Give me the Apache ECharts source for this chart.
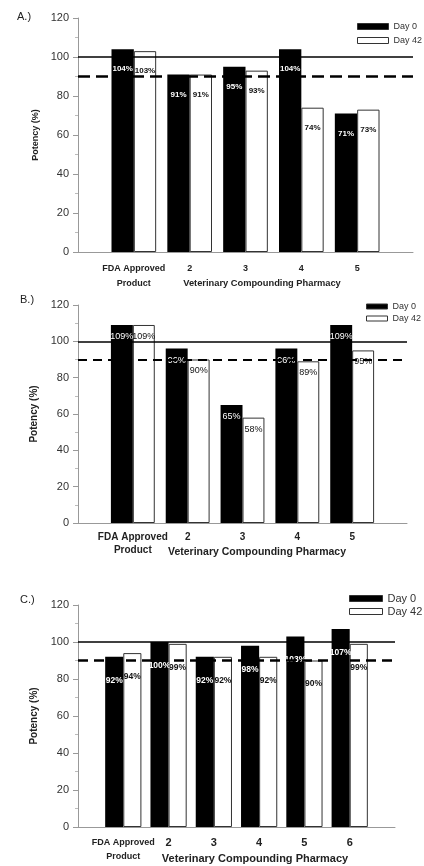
<!DOCTYPE html>
<html><head><meta charset="utf-8">
<script src="https://cdn.jsdelivr.net/npm/echarts@6/dist/echarts.min.js"></script>
<style>html,body{margin:0;padding:0;background:#fff}#c{width:424px;height:866px}</style>
</head><body><div id="c"></div>
<script>
// ---- data ----
const categoriesAB = ['FDA Approved\nProduct', '2', '3', '4', '5'];
const categoriesC = ['FDA Approved\nProduct', '2', '3', '4', '5', '6'];
const panelA_day0 = [104, 91, 95, 104, 71];
const panelA_day42 = [103, 91, 93, 74, 73];
const panelB_day0 = [109, 96, 65, 96, 109];
const panelB_day42 = [109, 90, 58, 89, 95];
const panelC_day0 = [92, 100, 92, 98, 103, 107];
const panelC_day42 = [94, 99, 92, 92, 90, 99];
const yTicks = [0, 20, 40, 60, 80, 100, 120];
const targetLine = 100;
const limitLine = 90;
const seriesNames = ['Day 0', 'Day 42'];
const panelLabels = ['A.)', 'B.)', 'C.)'];
const xTitle = 'Veterinary Compounding Pharmacy';
const yTitle = 'Potency (%)';

// ---- layout / build ----
const FONT = 'Liberation Sans, Arial, sans-serif';
const padCats = c => [' ', ...c, '  '];
const padVals = v => ['-', ...v, '-'];

const panels = [
  { grid: {left: 78, top: 18, width: 335, height: 234}, cats: categoriesAB, d0: panelA_day0, d42: panelA_day42,
    lblDist: 16, lblSize: 8, lblBold: 'bold', xSize: 9, numSize: 9, xLH: 15, xMargin: 9, dash: [12, 6], dashW: 2.5,
    legend: {left: 357, top: 21, itemWidth: 31, itemHeight: 6, itemGap: 3, fontSize: 9},
    yNameSize: 9, label: {x: 17, y: 11}, title: {x: 262, y: 283, size: 9.3} },
  { grid: {left: 78, top: 305, width: 329, height: 218}, cats: categoriesAB, d0: panelB_day0, d42: panelB_day42,
    lblDist: 7, lblSize: 9, lblBold: 'normal', xSize: 10, numSize: 10, xLH: 13, xMargin: 8, dash: [9, 6], dashW: 2,
    legend: {left: 366, top: 301, itemWidth: 21, itemHeight: 5, itemGap: 1, fontSize: 9},
    yNameSize: 10, label: {x: 20, y: 294}, title: {x: 257, y: 552, size: 10.5} },
  { grid: {left: 78, top: 605, width: 317, height: 222}, cats: categoriesC, d0: panelC_day0, d42: panelC_day42,
    lblDist: 19, lblSize: 8.5, lblBold: 'bold', xSize: 9, numSize: 11, xLH: 14, xMargin: 9, dash: [10, 6], dashW: 2.5,
    legend: {left: 349, top: 592, itemWidth: 33, itemHeight: 6, itemGap: 0, fontSize: 11},
    yNameSize: 10, label: {x: 20, y: 594}, title: {x: 255, y: 859, size: 11} }
];

const option = {
  animation: false,
  backgroundColor: '#fff',
  textStyle: {fontFamily: FONT},
  grid: [], xAxis: [], yAxis: [], series: [], legend: [], graphic: []
};

panels.forEach((p, i) => {
  option.grid.push(Object.assign({outerBoundsMode: 'none', containLabel: false}, p.grid));
  option.xAxis.push({
    type: 'category', gridIndex: i, data: padCats(p.cats), boundaryGap: false,
    axisLine: {lineStyle: {color: '#999', width: 1}},
    axisTick: {show: false}, splitLine: {show: false},
    axisLabel: {
      interval: 0, margin: p.xMargin, color: '#222', fontFamily: FONT,
      formatter: v => v.split('\n').map(s => (/^\d+$/.test(s) ? '{n|' : '{f|') + s + '}').join('\n'),
      rich: {
        f: {fontSize: p.xSize, fontWeight: 'bold', lineHeight: p.xLH, color: '#222', fontFamily: FONT},
        n: {fontSize: p.numSize, fontWeight: 'bold', lineHeight: p.xLH, color: '#222', fontFamily: FONT}
      }
    }
  });
  option.yAxis.push({
    type: 'value', gridIndex: i, min: yTicks[0], max: yTicks[yTicks.length - 1], interval: yTicks[1] - yTicks[0],
    name: yTitle, nameLocation: 'middle', nameGap: 37, nameRotate: 90,
    nameTextStyle: {fontSize: p.yNameSize, fontWeight: 'bold', color: '#222', fontFamily: FONT},
    axisLine: {show: true, lineStyle: {color: '#999', width: 1}},
    axisTick: {show: true, length: 5, lineStyle: {color: '#999'}},
    minorTick: {show: true, splitNumber: 2, length: 3, lineStyle: {color: '#bbb'}},
    splitLine: {show: false},
    axisLabel: {fontSize: 11, color: '#333', margin: 9, fontFamily: FONT}
  });
  option.series.push({
    type: 'bar', name: seriesNames[0], xAxisIndex: i, yAxisIndex: i, data: padVals(p.d0),
    barWidth: '40%', barGap: '0%',
    itemStyle: {color: '#000'},
    label: {show: true, position: 'insideTop', distance: p.lblDist, color: '#fff',
      fontSize: p.lblSize, fontWeight: p.lblBold, formatter: '{c}%', fontFamily: FONT}
  });
  option.series.push({
    type: 'bar', name: seriesNames[1], xAxisIndex: i, yAxisIndex: i, data: padVals(p.d42),
    barWidth: '40%', barGap: '0%',
    itemStyle: {color: '#fff', borderColor: '#333', borderWidth: 1},
    label: {show: true, position: 'insideTop', distance: p.lblDist, color: '#111',
      fontSize: p.lblSize, fontWeight: p.lblBold, formatter: '{c}%', fontFamily: FONT},
    markLine: {
      silent: true, symbol: ['none', 'none'], label: {show: false}, z: 10,
      emphasis: {disabled: true},
      data: [
        {yAxis: targetLine, lineStyle: {type: 'solid', width: 1.5, color: '#000'}},
        {yAxis: limitLine, lineStyle: {type: p.dash, width: p.dashW, color: '#000'}}
      ]
    }
  });
  option.legend.push({
    orient: 'vertical', left: p.legend.left, top: p.legend.top, padding: 0,
    itemWidth: p.legend.itemWidth, itemHeight: p.legend.itemHeight, itemGap: p.legend.itemGap,
    icon: 'rect', selectedMode: false, data: seriesNames,
    itemStyle: {borderWidth: 1, borderColor: '#333'},
    textStyle: {fontSize: p.legend.fontSize, color: '#333', fontFamily: FONT, lineHeight: p.legend.fontSize + 2}
  });
  option.graphic.push({
    type: 'text', left: p.label.x, top: p.label.y,
    style: {text: panelLabels[i], fontSize: 11, fill: '#222', fontFamily: FONT}
  });
  option.graphic.push({
    type: 'text', x: p.title.x, y: p.title.y,
    style: {text: xTitle, fontSize: p.title.size, fontWeight: 'bold', fill: '#222', fontFamily: FONT,
      textAlign: 'center', textVerticalAlign: 'middle'}
  });
});

const chart = echarts.init(document.getElementById('c'), null, {renderer: 'canvas'});
chart.setOption(option);
</script>
</body></html>
